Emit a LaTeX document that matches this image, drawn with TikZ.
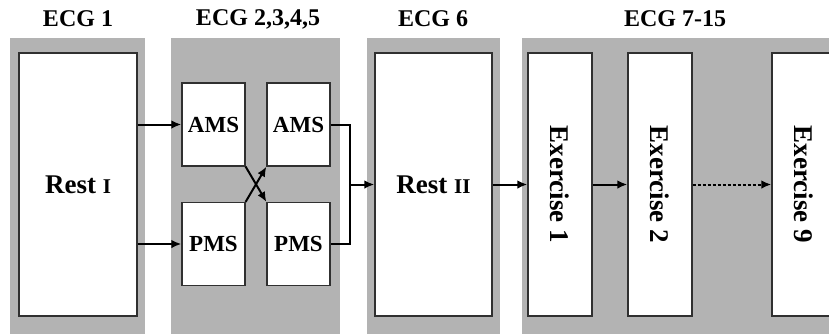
\documentclass[tikz,border=0pt]{standalone}
\usepackage{fontspec}
\setmainfont{Liberation Serif}
\usetikzlibrary{arrows.meta, positioning, calc}
\definecolor{grisPanel}{HTML}{B3B3B3}
\definecolor{bordeCaja}{HTML}{303030}
\newcommand{\romano}[1]{{\fontsize{21}{21}\selectfont #1}}

\begin{document}
\begin{tikzpicture}[x=1pt, y=-1pt, font=\bfseries, >=Latex,
        panel/.style={fill=grisPanel, draw=none, anchor=north west, inner sep=0pt,
            minimum height=300pt},
        titulo/.style={inner sep=0pt, font=\fontsize{24}{24}\selectfont\bfseries},
        caja/.style={draw=bordeCaja, fill=white, line width=1.2pt, inner sep=0pt},
        grande/.style={caja, minimum height=263pt, font=\fontsize{27}{27}\selectfont\bfseries},
        chica/.style={caja, minimum width=63pt, minimum height=83pt,
            font=\fontsize{23}{23}\selectfont\bfseries},
        flecha/.style={-{Latex[length=3.5mm, width=3mm]}, line width=2pt, black}]
        \useasboundingbox (0,0) rectangle (829,333);
        \clip (0,0) rectangle (829,333);
        % paneles de fondo
        \node[panel, minimum width=135pt] (pA) at (10,38) {};
        \node[panel, minimum width=169pt] (pB) at (171,38) {};
        \node[panel, minimum width=133pt] (pC) at (367,38) {};
        \node[panel, minimum width=320pt] (pD) at (522,38) {};
        \node[titulo] (tA) at (78,19) {ECG 1};
        \node[titulo] (tB) at (258,19) {ECG 2,3,4,5};
        \node[titulo] (tC) at (433,19) {ECG 6};
        \node[titulo] (tD) at (675,19) {ECG 7-15};
        % cajas
        \node[grande, minimum width=118pt] (restI) at (78,184.5) {Rest \romano{I}};
        \node[chica] (amsA) at (213.5,124.5) {AMS};
        \node[chica] (pmsA) at (213.5,244) {PMS};
        \node[chica] (amsB) at (298.5,124.5) {AMS};
        \node[chica] (pmsB) at (298.5,244) {PMS};
        \node[grande, minimum width=117pt] (restII) at (433.5,184.5) {Rest \romano{II}};
        \node[grande, minimum width=64pt] (ex1) at (560,184.5) {\rotatebox{-90}{Exercise 1}};
        \node[grande, minimum width=64pt] (ex2) at (660,184.5) {\rotatebox{-90}{Exercise 2}};
        \node[grande, minimum width=64pt] (ex9) at (804,184.5) {\rotatebox{-90}{Exercise 9}};
        % conexiones
        \draw[flecha] (restI.east |- amsA.west) -- (amsA.west);
        \draw[flecha] (restI.east |- pmsA.west) -- (pmsA.west);
        \draw[flecha] (amsA.south east) -- (pmsB.north west);
        \draw[flecha] (pmsA.north east) -- (amsB.south west);
        \coordinate (junta) at (350,184.5);
        \draw[line width=2pt] (amsB.east) -| (junta) |- (pmsB.east);
        \draw[flecha] (junta) -- (restII.west |- junta);
        \draw[flecha] (restII.east) -- (ex1.west);
        \draw[flecha] (ex1.east) -- (ex2.west);
        \draw[flecha, dash pattern=on 3pt off 2pt] (ex2.east) -- (ex9.west);
    \end{tikzpicture}
\end{document}
